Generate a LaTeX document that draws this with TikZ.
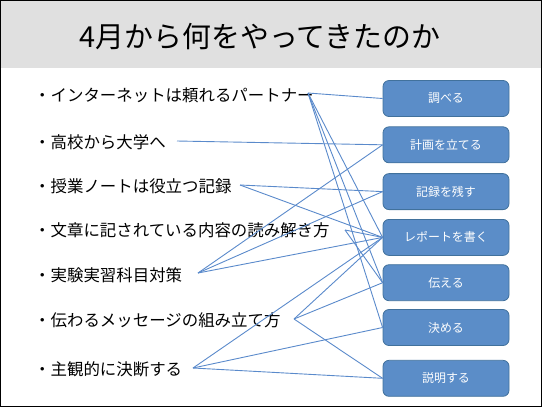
\documentclass[tikz,border=0pt]{standalone}
\usepackage{fontspec}
\newfontfamily\jpfont{Noto Sans CJK JP}
\usetikzlibrary{positioning}
\definecolor{titlegray}{HTML}{E0E0E0}
\definecolor{boxblue}{HTML}{5B8DC8}
\definecolor{boxedge}{HTML}{41719C}
\definecolor{linkblue}{HTML}{5A8ACB}

\tikzset{
  item/.style={anchor=west, inner sep=0pt, font=\jpfont\fontsize{16.5}{18}\selectfont},
  verbbox/.style={draw=boxedge, fill=boxblue, line width=0.8bp, rounded corners=6bp,
    minimum width=126bp, minimum height=36bp, inner sep=0pt, text=white,
    font=\jpfont\fontsize{12}{14}\selectfont},
  link/.style={draw=linkblue, line width=0.9bp}
}

\begin{document}
\begin{tikzpicture}[x=1bp, y=-1bp]

  \useasboundingbox (0,0) rectangle (542,407);

  % Title band
  \fill[titlegray] (0,0) rectangle (542,68);
  \node[font=\jpfont\fontsize{29}{32}\selectfont] (title) at (260,37) {4月から何をやってきたのか};

  % Left column: what was done
  \node[item] (net)    at (34,95)  {・インターネットは頼れるパートナー};
  \node[item] (koukou) at (34,142) {・高校から大学へ};
  \node[item] (note)   at (34,186) {・授業ノートは役立つ記録};
  \node[item] (bunsho) at (34,230) {・文章に記されている内容の読み解き方};
  \node[item] (jikken) at (34,275) {・実験実習科目対策};
  \node[item] (msg)    at (34,320) {・伝わるメッセージの組み立て方};
  \node[item] (shukan) at (34,369) {・主観的に決断する};

  % free ends of the links
  \coordinate (netR)    at (308,93);
  \coordinate (koukouR) at (177,141);
  \coordinate (noteR)   at (240,185);
  \coordinate (bunshoR) at (345,230);
  \coordinate (jikkenR) at (198,273);
  \coordinate (msgR)    at (294,319);
  \coordinate (shukanR) at (193,368);

  % Right column: skills
  \node[verbbox] (shiraberu) at (446,98.5) {調べる};
  \node[verbbox, below=9.5bp of shiraberu] (keikaku) {計画を立てる};
  \node[verbbox, below=10bp of keikaku] (kiroku) {記録を残す};
  \node[verbbox, below=9bp of kiroku] (report) {レポートを書く};
  \node[verbbox, below=8.5bp of report] (tsutaeru) {伝える};
  \node[verbbox, below=8bp of tsutaeru] (kimeru) {決める};
  \node[verbbox, below=14bp of kimeru] (setsumei) {説明する};

  % Links
  \draw[link] (netR) -- (shiraberu.west);
  \draw[link] (netR) -- (report.west);
  \draw[link] (netR) -- (tsutaeru.west);
  \draw[link] (netR) -- (kimeru.west);
  \draw[link] (koukouR) -- (keikaku.west);
  \draw[link] (noteR) -- (kiroku.west);
  \draw[link] (noteR) -- (report.west);
  \draw[link] (bunshoR) -- (report.west);
  \draw[link] (bunshoR) -- (tsutaeru.west);
  \draw[link] (jikkenR) -- (keikaku.west);
  \draw[link] (jikkenR) -- (kiroku.west);
  \draw[link] (jikkenR) -- (report.west);
  \draw[link] (msgR) -- (report.west);
  \draw[link] (msgR) -- (tsutaeru.west);
  \draw[link] (msgR) -- (setsumei.west);
  \draw[link] (shukanR) -- (report.west);
  \draw[link] (shukanR) -- (kimeru.west);
  \draw[link] (shukanR) -- (setsumei.west);

  % Frame
  \draw[line width=1bp] (0.5,0.5) rectangle (541.5,406.5);

\end{tikzpicture}
\end{document}
